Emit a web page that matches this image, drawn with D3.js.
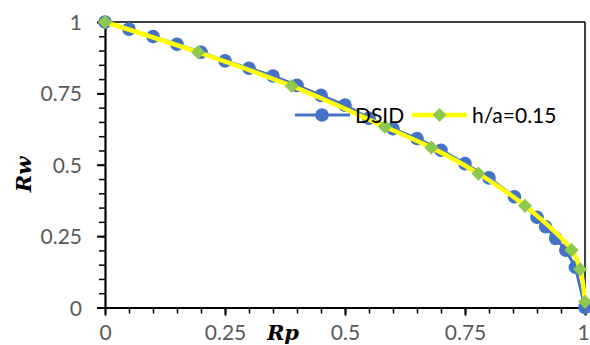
<!DOCTYPE html>
<html>
<head>
<meta charset="utf-8">
<script src="https://cdn.jsdelivr.net/npm/d3@7"></script>
<style>
  html, body { margin: 0; padding: 0; background: #fff; }
  svg { display: block; }
</style>
</head>
<body>
<svg id="chart" width="590" height="345"></svg>
<script>
// ---- data ----
const dsidRp = [0, 0.05, 0.1, 0.15, 0.2, 0.25, 0.3, 0.35, 0.4, 0.45, 0.5, 0.55, 0.6, 0.65, 0.7, 0.75, 0.8, 0.853, 0.9, 0.918, 0.939, 0.96, 0.98, 1.0];
const dsidRw = [1, 0.975, 0.949, 0.922, 0.894, 0.864, 0.838, 0.811, 0.778, 0.743, 0.709, 0.663, 0.626, 0.592, 0.551, 0.504, 0.454, 0.388, 0.316, 0.283, 0.242, 0.201, 0.141, 0.0];
const haRp = [0, 0.194, 0.389, 0.583, 0.68, 0.778, 0.875, 0.972, 0.99, 1.0];
const haRw = [1, 0.894, 0.776, 0.633, 0.56, 0.469, 0.356, 0.201, 0.134, 0.02];
const seriesNames = ["DSID", "h/a=0.15"];
const xTicks = [0, 0.25, 0.5, 0.75, 1];
const yTicks = [0, 0.25, 0.5, 0.75, 1];
const xTickLabels = ["0", "0.25", "0.5", "0.75", "1"];
const yTickLabels = ["0", "0.25", "0.5", "0.75", "1"];
const axisTitles = { x: "Rp", y: "Rw" };

// ---- layout ----
const svg = d3.select("#chart");
const L = 105, R = 585, T = 22, B = 307.5;
const x = d3.scaleLinear().domain([0, 1]).range([L, R]);
const y = d3.scaleLinear().domain([0, 1]).range([B, T]);
const blue = "#4472C4", yellow = "#FFFF00", green = "#8DC850";
const labelFont = "Lato, 'Open Sans', sans-serif";
const titleFont = "'DejaVu Serif', 'Liberation Serif', serif";

// frame (top & right)
svg.append("line").attr("x1", L).attr("x2", R).attr("y1", T).attr("y2", T)
  .attr("stroke", "#000").attr("stroke-width", 1.5);
svg.append("line").attr("x1", R).attr("x2", R).attr("y1", T).attr("y2", B)
  .attr("stroke", "#000").attr("stroke-width", 1.5);

// minor ticks
const minor = d3.range(0, 1.0001, 0.05);
const xAxisMinor = d3.axisBottom(x).tickValues(minor).tickSize(6).tickFormat("");
const yAxisMinor = d3.axisLeft(y).tickValues(minor).tickSize(6).tickFormat("");
const gxm = svg.append("g").attr("transform", `translate(0,${B})`).call(xAxisMinor);
const gym = svg.append("g").attr("transform", `translate(${L},0)`).call(yAxisMinor);
[gxm, gym].forEach(g => {
  g.select(".domain").remove();
  g.selectAll(".tick line").attr("stroke", "#000").attr("stroke-width", 1.5);
});

// major axes
const xAxis = d3.axisBottom(x).tickValues(xTicks).tickSize(8).tickSizeOuter(0)
  .tickFormat((d, i) => xTickLabels[i]).tickPadding(10);
const yAxis = d3.axisLeft(y).tickValues(yTicks).tickSize(8).tickSizeOuter(0)
  .tickFormat((d, i) => yTickLabels[i]).tickPadding(15);
const gx = svg.append("g").attr("transform", `translate(0,${B})`).call(xAxis);
const gy = svg.append("g").attr("transform", `translate(${L},0)`).call(yAxis);
[gx, gy].forEach(g => {
  g.select(".domain").attr("stroke", "#000").attr("stroke-width", 2.2);
  g.selectAll(".tick line").attr("stroke", "#000").attr("stroke-width", 2);
  g.selectAll(".tick text").attr("fill", "#595959")
    .style("font-family", labelFont).style("font-size", "21px");
});
gx.selectAll(".tick text").attr("dy", "0.71em")
  .attr("x", (d, i) => i === xTicks.length - 1 ? -2 : 0);
gy.selectAll(".tick text").attr("dy", "0.36em");

// axis titles
svg.append("text").attr("x", 283).attr("y", 339.5).attr("text-anchor", "middle")
  .style("font-family", titleFont)
  .style("font-weight", "bold").style("font-style", "italic").style("font-size", "21px")
  .text(axisTitles.x);
svg.append("text").attr("transform", "translate(31,174.5) rotate(-90)").attr("text-anchor", "middle")
  .style("font-family", titleFont)
  .style("font-weight", "bold").style("font-style", "italic").style("font-size", "21px")
  .text(axisTitles.y);

// series data
const dsid = dsidRp.map((d, i) => [d, dsidRw[i]]);
const ha = haRp.map((d, i) => [d, haRw[i]]);

// DSID series
svg.append("path").datum(dsid)
  .attr("d", d3.line().x(d => x(d[0])).y(d => y(d[1])))
  .attr("fill", "none").attr("stroke", blue).attr("stroke-width", 3);
svg.append("g").selectAll("circle").data(dsid).join("circle")
  .attr("cx", d => x(d[0])).attr("cy", d => y(d[1])).attr("r", 6.8).attr("fill", blue);

// h/a series
const diamond = d3.symbol().type(d3.symbolSquare).size(100);
svg.append("path").datum(ha)
  .attr("d", d3.line().x(d => x(d[0])).y(d => y(d[1])).curve(d3.curveCatmullRom.alpha(0.5)))
  .attr("fill", "none").attr("stroke", yellow).attr("stroke-width", 4.5);
svg.append("g").selectAll("path").data(ha).join("path")
  .attr("d", diamond)
  .attr("transform", d => `translate(${x(d[0])},${y(d[1])}) rotate(45)`)
  .attr("fill", green);

// legend
const ly = 115;
const lg = svg.append("g");
lg.append("line").attr("x1", 295).attr("x2", 350).attr("y1", ly).attr("y2", ly)
  .attr("stroke", blue).attr("stroke-width", 3);
lg.append("circle").attr("cx", 322).attr("cy", ly).attr("r", 6.8).attr("fill", blue);
lg.append("text").attr("x", 355).attr("y", ly).attr("dy", "0.36em")
  .style("font-family", labelFont).style("font-size", "21px").attr("fill", "#000")
  .text(seriesNames[0]);
lg.append("line").attr("x1", 412).attr("x2", 467).attr("y1", ly).attr("y2", ly)
  .attr("stroke", yellow).attr("stroke-width", 4.5);
lg.append("path").attr("d", diamond).attr("transform", `translate(439.5,${ly}) rotate(45)`)
  .attr("fill", green);
lg.append("text").attr("x", 472).attr("y", ly).attr("dy", "0.36em")
  .style("font-family", labelFont).style("font-size", "21px").attr("fill", "#000")
  .text(seriesNames[1]);
</script>
</body>
</html>
